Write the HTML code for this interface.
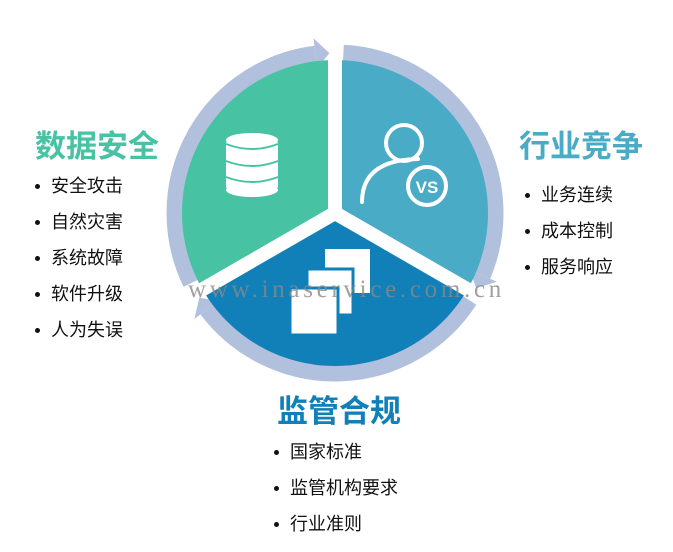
<!DOCTYPE html>
<html><head><meta charset="utf-8"><style>
html,body{margin:0;padding:0;background:#fff;}
body{width:673px;height:552px;position:relative;overflow:hidden;font-family:"Liberation Sans","Noto Sans CJK SC",sans-serif;}
.t{position:absolute;font-weight:bold;font-size:31px;line-height:32px;white-space:nowrap;}
.li{position:absolute;font-size:18px;line-height:20px;color:#111;white-space:nowrap;}
.li:before{content:"";position:absolute;left:-16px;top:8px;width:5px;height:5px;border-radius:50%;background:#111;}
</style></head><body>
<svg width="673" height="552" style="position:absolute;left:0;top:0">
<g fill="none" stroke="#b1c0dc" stroke-width="17">
<path d="M191.2 283.1 A160 160 0 0 1 315.5 54.2"/>
<path d="M343.4 53.2 A160 160 0 0 1 482.3 275.5"/>
<path d="M469.2 300.1 A160 160 0 0 1 207.2 309.3"/>
</g>
<g fill="#b1c0dc">
<polygon points="317.2,68.1 313.5,38.3 329.4,53.1"/>
<polygon points="469.4,270 497,281.8 476.3,288.1"/>
<polygon points="218.4,300.9 194.4,318.9 199.3,297.8"/>
</g>
<path d="M335 213 L202.5 289.5 A153 153 0 0 1 335 60 Z" fill="#47c3a4"/>
<path d="M335 213 L335 60 A153 153 0 0 1 467.5 289.5 Z" fill="#4aabc6"/>
<path d="M335 213 L467.5 289.5 A153 153 0 0 1 202.5 289.5 Z" fill="#1180b8"/>
<g stroke="#fff" stroke-width="14" stroke-linecap="butt">
<line x1="335" y1="213" x2="335" y2="55"/>
<line x1="335" y1="213" x2="472" y2="292"/>
<line x1="335" y1="213" x2="198" y2="292"/>
</g>
<g fill="#fff">
<rect x="226" y="140" width="52" height="50" rx="4"/>
<ellipse cx="252" cy="140" rx="26" ry="7"/>
<ellipse cx="252" cy="190" rx="26" ry="7"/>
</g>
<g fill="none" stroke="#47c3a4" stroke-width="2">
<path d="M226 144 Q252 154 278 144"/>
<path d="M226 161 Q252 171 278 161"/>
<path d="M226 177 Q252 187 278 177"/>
</g>
<g fill="none" stroke="#fff" stroke-width="4" stroke-linecap="round">
<circle cx="404" cy="143" r="18"/>
<path d="M362 202 Q362 160 418 159"/>
<circle cx="427" cy="186" r="19"/>
</g>
<text x="427" y="193" text-anchor="middle" font-family="Liberation Sans,sans-serif" font-weight="bold" font-size="17" fill="#fff">VS</text>
<rect x="325" y="249" width="45" height="44" fill="#fff"/>
<rect x="307" y="269" width="46" height="46" fill="#fff" stroke="#1180b8" stroke-width="3"/>
<rect x="290" y="288" width="48" height="47" fill="#fff" stroke="#1180b8" stroke-width="3"/>
<text x="188" y="297" font-family="Liberation Serif,serif" font-size="25" fill="#888" fill-opacity="0.8" letter-spacing="3.7">www.inaservice.com.cn</text>
</svg>
<div class="t" style="left:35px;top:131px;color:#47c3a4">数据安全</div>
<div class="t" style="left:519px;top:131px;color:#4aabc6">行业竞争</div>
<div class="t" style="left:277px;top:396px;color:#1180b8">监管合规</div>
<div class="li" style="left:51px;top:176px">安全攻击</div>
<div class="li" style="left:51px;top:212px">自然灾害</div>
<div class="li" style="left:51px;top:248px">系统故障</div>
<div class="li" style="left:51px;top:284px">软件升级</div>
<div class="li" style="left:51px;top:320px">人为失误</div>
<div class="li" style="left:541px;top:185px">业务连续</div>
<div class="li" style="left:541px;top:221px">成本控制</div>
<div class="li" style="left:541px;top:257px">服务响应</div>
<div class="li" style="left:290px;top:442px">国家标准</div>
<div class="li" style="left:290px;top:478px">监管机构要求</div>
<div class="li" style="left:290px;top:514px">行业准则</div>
</body></html>
